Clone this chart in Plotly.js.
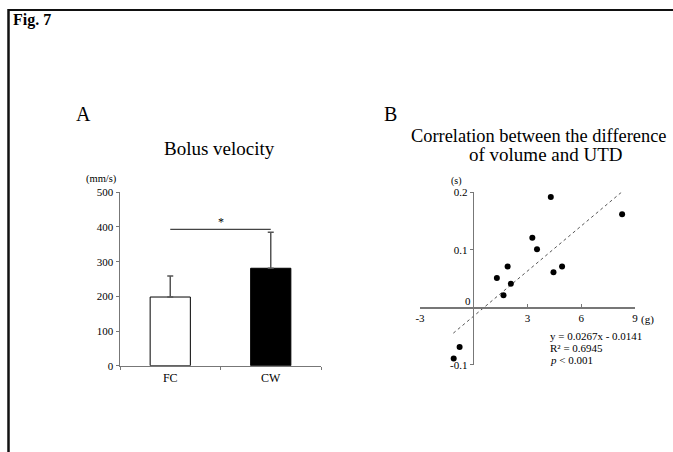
<!DOCTYPE html>
<html><head><meta charset="utf-8">
<script src="https://cdn.plot.ly/plotly-3.0.1.min.js"></script>
<style>html,body{margin:0;padding:0;background:#fff}#chart{width:673px;height:452px}</style>
</head><body><div id="chart"></div>
<script>
// ---- Panel A data ----
const groups = ['FC', 'CW'];
const velocity = [198, 281];
const velocitySD = [61, 104];
const barColors = ['#ffffff', '#000000'];
const sigLevel = 393;
const barTicks = [0, 100, 200, 300, 400, 500];

// ---- Panel B data ----
const volumeDiff = [4.30, 8.28, 3.27, 3.53, 1.89, 4.93, 4.45, 1.29, 2.07, 1.66, -0.79, -1.12];
const utdDiff = [0.192, 0.162, 0.121, 0.101, 0.071, 0.071, 0.061, 0.051, 0.041, 0.021, -0.069, -0.089];
const trendX = [-1.14, 8.24];
const trendY = [-0.045, 0.200];
const scatterXTicks = [-3, 3, 6, 9];
const scatterXLabels = ['-3', '3', '6', '9'];
const scatterYTicks = [-0.1, 0, 0.1, 0.2];
const scatterYLabels = ['-0.1', '', '0.1', '0.2'];
const statLines = ['y = 0.0267x - 0.0141', 'R² = 0.6945', '<i>p</i> < 0.001'];

const W = 673, H = 452;
const fx = p => p / W;
const fy = p => 1 - p / H;
const FONT = 'Liberation Serif, Times New Roman, serif';
const AX = '#777777';

const traces = [
  {
    type: 'bar', x: groups, y: velocity, xaxis: 'x', yaxis: 'y', width: 0.4,
    marker: {color: barColors, line: {color: '#000', width: 1}},
    error_y: {type: 'data', symmetric: false, array: velocitySD, arrayminus: [0, 0],
              color: '#555', thickness: 1.5, width: 3},
    hoverinfo: 'skip', showlegend: false
  },
  {
    type: 'scatter', mode: 'lines', x: trendX, y: trendY, xaxis: 'x2', yaxis: 'y2',
    line: {color: '#555', width: 1, dash: 'dot'}, showlegend: false, hoverinfo: 'skip'
  },
  {
    type: 'scatter', mode: 'markers', x: volumeDiff, y: utdDiff, xaxis: 'x2', yaxis: 'y2',
    marker: {color: '#000', size: 6}, showlegend: false
  }
];

const statY = [336, 348, 360];
const annotations = [
  {text: '<b>Fig. 7</b>', xref: 'paper', yref: 'paper', x: fx(11), y: fy(20),
   xanchor: 'left', yanchor: 'middle', showarrow: false, font: {size: 16, family: FONT}},
  {text: 'A', xref: 'paper', yref: 'paper', x: fx(83), y: fy(114),
   xanchor: 'center', yanchor: 'middle', showarrow: false, font: {size: 20, family: FONT}},
  {text: 'B', xref: 'paper', yref: 'paper', x: fx(390), y: fy(114),
   xanchor: 'center', yanchor: 'middle', showarrow: false, font: {size: 20, family: FONT}},
  {text: 'Bolus velocity', xref: 'paper', yref: 'paper', x: fx(219), y: fy(148),
   xanchor: 'center', yanchor: 'middle', showarrow: false, font: {size: 19, family: FONT}},
  {text: 'Correlation between the difference', xref: 'paper', yref: 'paper',
   x: fx(409), y: fy(135.5), xanchor: 'left', yanchor: 'middle', showarrow: false,
   font: {size: 18.4, family: FONT}},
  {text: 'of volume and UTD', xref: 'paper', yref: 'paper',
   x: fx(546), y: fy(154.5), xanchor: 'center', yanchor: 'middle', showarrow: false,
   font: {size: 19, family: FONT}},
  {text: '(mm/s)', xref: 'paper', yref: 'paper', x: fx(102), y: fy(179.5),
   xanchor: 'center', yanchor: 'middle', showarrow: false, font: {size: 10.5, family: FONT}},
  {text: '*', xref: 'x', yref: 'y', x: 0.5, y: sigLevel, yanchor: 'bottom', yshift: -2,
   showarrow: false, font: {size: 12, family: FONT}},
  {text: '(s)', xref: 'paper', yref: 'paper', x: fx(456), y: fy(180.5),
   xanchor: 'center', yanchor: 'middle', showarrow: false, font: {size: 10, family: FONT}},
  {text: '0', xref: 'paper', yref: 'paper', x: fx(467.5), y: fy(300.5),
   xanchor: 'center', yanchor: 'middle', showarrow: false, font: {size: 11, family: FONT}},
  {text: '(g)', xref: 'paper', yref: 'paper', x: fx(647.5), y: fy(319.5),
   xanchor: 'center', yanchor: 'middle', showarrow: false, font: {size: 11, family: FONT}}
];
statLines.forEach((t, i) => annotations.push({
  text: t, xref: 'paper', yref: 'paper', x: fx(548), y: fy(statY[i]),
  xanchor: 'left', yanchor: 'middle', showarrow: false, font: {size: 11, family: FONT}
}));

const layout = {
  width: W, height: H,
  margin: {l: 0, r: 0, t: 0, b: 0},
  paper_bgcolor: '#fff', plot_bgcolor: 'rgba(0,0,0,0)',
  font: {family: FONT, color: '#000', size: 11},
  showlegend: false,
  xaxis: {
    domain: [fx(120), fx(321)], range: [-0.5, 1.5], type: 'category',
    showline: true, linecolor: AX, linewidth: 1.5, showgrid: false, zeroline: false,
    ticks: 'outside', ticklen: 3, tickcolor: AX, tickson: 'boundaries',
    tickfont: {size: 12, family: FONT}, anchor: 'y', fixedrange: true
  },
  yaxis: {
    domain: [fy(365.7), fy(192.3)], range: [0, 500],
    tickvals: barTicks, showline: true, linecolor: AX, linewidth: 1.5,
    showgrid: false, zeroline: false, ticks: 'outside', ticklen: 3, tickcolor: AX,
    tickfont: {size: 11, family: FONT}, anchor: 'x', fixedrange: true
  },
  xaxis2: {
    domain: [fx(420), fx(635)], range: [-3, 9],
    tickvals: scatterXTicks, ticktext: scatterXLabels,
    anchor: 'free', position: fy(307.3),
    showline: true, linecolor: AX, linewidth: 1.2, showgrid: false, zeroline: false,
    ticks: 'inside', ticklen: 3, tickcolor: AX,
    tickfont: {size: 11, family: FONT}, fixedrange: true
  },
  yaxis2: {
    domain: [fy(364.8), fy(192.3)], range: [-0.1, 0.2],
    tickvals: scatterYTicks, ticktext: scatterYLabels,
    anchor: 'free', position: fx(472.7),
    showline: true, linecolor: AX, linewidth: 1.2, showgrid: false, zeroline: false,
    ticks: 'outside', ticklen: 3, tickcolor: AX,
    tickfont: {size: 11, family: FONT}, fixedrange: true
  },
  shapes: [
    {type: 'line', xref: 'paper', yref: 'paper', x0: fx(8), x1: 1, y0: fy(10), y1: fy(10),
     line: {color: '#111', width: 2}},
    {type: 'line', xref: 'paper', yref: 'paper', x0: fx(8.5), x1: fx(8.5), y0: fy(9), y1: 0,
     line: {color: '#111', width: 2.5}},
    {type: 'line', xref: 'x', yref: 'y', x0: 0, x1: 1, y0: sigLevel, y1: sigLevel,
     line: {color: '#444', width: 1.2}}
  ],
  annotations: annotations
};

Plotly.newPlot('chart', traces, layout, {displayModeBar: false, staticPlot: true});
</script>
</body></html>
